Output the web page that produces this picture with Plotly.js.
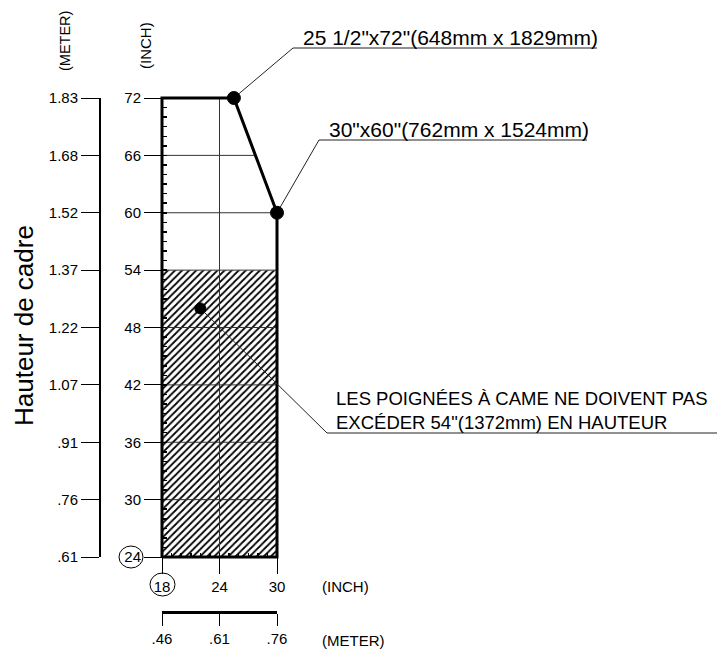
<!DOCTYPE html>
<html>
<head>
<meta charset="utf-8">
<script src="https://cdn.plot.ly/plotly-3.0.1.min.js"></script>
<style>html,body{margin:0;padding:0;background:#fff;}#chart{width:717px;height:649px;}</style>
</head>
<body>
<div id="chart"></div>
<script>
// ---------- DATA ----------
const heightTicksInch = [24, 30, 36, 42, 48, 54, 60, 66, 72];
const heightTicksMeterLabels = ['.61', '.76', '.91', '1.07', '1.22', '1.37', '1.52', '1.68', '1.83'];
const widthTicksInch = [18, 24, 30];
const widthTicksMeterLabels = ['.46', '.61', '.76'];
const frameX = [18, 18, 25.5, 30, 30, 18];
const frameY = [24, 72, 72, 60, 24, 24];
const handleZoneX = [18, 30, 30, 18, 18];
const handleZoneY = [24, 24, 54, 54, 24];
const sizePointX = [25.5, 30];
const sizePointY = [72, 60];
const sizePointLabels = ['25 1/2"x72"(648mm x 1829mm)', '30"x60"(762mm x 1524mm)'];
const handlePointX = [22];
const handlePointY = [50];
const handleNote = 'LES POIGNÉES À CAME NE DOIVENT PAS<br>EXCÉDER 54"(1372mm) EN HAUTEUR';
const INCH_TO_M = 0.0254;

// ---------- LAYOUT GEOMETRY ----------
const W = 717, H = 649;
const PX_X18 = 162, PX_X30 = 277;   // pixel columns of 18" and 30"
const PX_Y72 = 98, PX_Y24 = 557;    // pixel rows of 72" and 24"
const kx = (PX_X30 - PX_X18) / 12;
const ky = (PX_Y24 - PX_Y72) / 48;
const xr = [18 - PX_X18 / kx, 18 + (W - PX_X18) / kx];
const yr = [24 - (H - PX_Y24) / ky, 72 + PX_Y72 / ky];
const px2x = p => 18 + (p - PX_X18) / kx;
const px2y = p => 72 - (p - PX_Y72) / ky;
const FONT = 'Liberation Sans, Arial, sans-serif';

// grid segments clipped to the frame outline
function rightEdgeAt(y) {
  for (let i = 1; i < frameX.length - 2; i++) {
    const y0 = frameY[i], y1 = frameY[i + 1];
    const lo = Math.min(y0, y1), hi = Math.max(y0, y1);
    if (y >= lo && y <= hi && y0 !== y1) {
      return frameX[i] + (y - y0) / (y1 - y0) * (frameX[i + 1] - frameX[i]);
    }
  }
  return frameX[3];
}
const gridX = [], gridY = [];
heightTicksInch.slice(1, -1).forEach(v => {
  gridX.push(18, rightEdgeAt(v), null); gridY.push(v, v, null);
});
gridX.push(widthTicksInch[1], widthTicksInch[1]); gridY.push(24, 72);

const leaderStarts = [[sizePointX[0], sizePointY[0]], [sizePointX[1], sizePointY[1]], [handlePointX[0], handlePointY[0]]];
const leaderElbows = [[293, 48, 597], [319, 140, 587], [327, 433, 720]];
const leadX = [], leadY = [];
leaderStarts.forEach((s, i) => {
  const e = leaderElbows[i];
  leadX.push(s[0], px2x(e[0]), px2x(e[2]), null);
  leadY.push(s[1], px2y(e[1]), px2y(e[1]), null);
});

const traces = [
  {x: handleZoneX, y: handleZoneY, mode: 'lines', fill: 'toself', line: {width: 0, color: '#000'},
   fillcolor: 'white', fillpattern: {shape: '/', size: 5, solidity: 0.35, fgcolor: '#000', bgcolor: 'white'},
   hoverinfo: 'skip'},
  {x: gridX, y: gridY, mode: 'lines', line: {color: '#333', width: 1}, hoverinfo: 'skip'},
  {x: frameX, y: frameY, mode: 'lines', line: {color: '#000', width: 3}, hoverinfo: 'skip'},
  {x: leadX, y: leadY, mode: 'lines', line: {color: '#222', width: 1}, hoverinfo: 'skip'},
  {x: sizePointX.concat(handlePointX), y: sizePointY.concat(handlePointY), mode: 'markers',
   marker: {color: '#000', opacity: 1, size: [13, 13, 11], line: {width: 1, color: '#000'}}, opacity: 1, hoverinfo: 'skip'},
  {x: [18], y: [24], xaxis: 'x2', yaxis: 'y2', mode: 'markers', marker: {opacity: 0}, hoverinfo: 'skip'},
  {x: [18 * INCH_TO_M], y: [24 * INCH_TO_M], xaxis: 'x3', yaxis: 'y3', mode: 'markers', marker: {opacity: 0}, hoverinfo: 'skip'}
];

const yDom = [(H - PX_Y24) / H, (H - PX_Y72) / H];
const xDom = [PX_X18 / W, PX_X30 / W];
const tickFont = {family: FONT, size: 15, color: '#000'};
const hidden = {visible: false, fixedrange: true, showgrid: false, zeroline: false};

const layout = {
  width: W, height: H,
  margin: {l: 0, r: 0, t: 0, b: 0, pad: 0},
  paper_bgcolor: '#fff', plot_bgcolor: 'rgba(0,0,0,0)',
  showlegend: false,
  font: {family: FONT, color: '#000'},
  xaxis: Object.assign({range: xr, domain: [0, 1]}, hidden),
  yaxis: Object.assign({range: yr, domain: [0, 1]}, hidden),
  yaxis2: {domain: yDom, range: [24, 72], anchor: 'free', position: PX_X18 / W, side: 'left',
    showline: false, showgrid: false, zeroline: false, fixedrange: true,
    tickmode: 'linear', tick0: 24, dtick: 6, ticks: 'outside', ticklen: 18, tickwidth: 1, tickcolor: '#000',
    tickfont: tickFont, minor: {tickmode: 'linear', tick0: 24, dtick: 1, ticks: 'inside', ticklen: 4, tickwidth: 1.5, tickcolor: '#000'}},
  xaxis2: {domain: xDom, range: [18, 30], anchor: 'free', position: yDom[0], side: 'bottom',
    showline: false, showgrid: false, zeroline: false, fixedrange: true,
    tickmode: 'array', tickvals: widthTicksInch, ticktext: widthTicksInch.map(String),
    ticks: 'outside', ticklen: 16, tickwidth: 1, tickcolor: '#000', tickfont: tickFont,
    minor: {tickmode: 'linear', tick0: 18, dtick: 1, ticks: 'inside', ticklen: 4, tickwidth: 1.5, tickcolor: '#000'}},
  yaxis3: {domain: yDom, range: [24 * INCH_TO_M, 72 * INCH_TO_M], anchor: 'free', position: 100 / W, side: 'left',
    showline: true, linewidth: 2, linecolor: '#000', showgrid: false, zeroline: false, fixedrange: true,
    tickmode: 'array', tickvals: heightTicksInch.map(v => v * INCH_TO_M), ticktext: heightTicksMeterLabels,
    ticks: 'outside', ticklen: 18, tickwidth: 1, tickcolor: '#000', tickfont: tickFont},
  xaxis3: {domain: xDom, range: [18 * INCH_TO_M, 30 * INCH_TO_M], anchor: 'free', position: (H - 612) / H, side: 'bottom',
    showline: true, linewidth: 2.5, linecolor: '#000', showgrid: false, zeroline: false, fixedrange: true,
    tickmode: 'array', tickvals: widthTicksInch.map(v => v * INCH_TO_M), ticktext: widthTicksMeterLabels,
    ticks: 'outside', ticklen: 12, tickwidth: 1, tickcolor: '#000', tickfont: tickFont},
  shapes: [
    {type: 'circle', xref: 'paper', yref: 'paper', x0: 119 / W, x1: 143 / W, y0: 1 - 568 / H, y1: 1 - 546 / H, line: {color: '#000', width: 1}},
    {type: 'circle', xref: 'paper', yref: 'paper', x0: 150 / W, x1: 175 / W, y0: 1 - 596 / H, y1: 1 - 573 / H, line: {color: '#000', width: 1}}
  ],
  annotations: [
    {xref: 'x', yref: 'y', x: px2x(301), y: px2y(37), xanchor: 'left', yanchor: 'middle', showarrow: false,
     text: sizePointLabels[0], font: {size: 21, family: FONT, color: '#000'}},
    {xref: 'x', yref: 'y', x: px2x(327), y: px2y(129), xanchor: 'left', yanchor: 'middle', showarrow: false,
     text: sizePointLabels[1], font: {size: 21, family: FONT, color: '#000'}},
    {xref: 'x', yref: 'y', x: px2x(334), y: px2y(410), xanchor: 'left', yanchor: 'middle', align: 'left', showarrow: false,
     text: handleNote, font: {size: 18.5, family: FONT, color: '#000'}},
    {xref: 'paper', yref: 'paper', x: 65 / W, y: 1 - 41 / H, xanchor: 'center', yanchor: 'middle', textangle: -90, showarrow: false,
     text: '(METER)', font: {size: 14.5, family: FONT, color: '#000'}},
    {xref: 'paper', yref: 'paper', x: 145 / W, y: 1 - 46 / H, xanchor: 'center', yanchor: 'middle', textangle: -90, showarrow: false,
     text: '(INCH)', font: {size: 15, family: FONT, color: '#000'}},
    {xref: 'paper', yref: 'paper', x: 24 / W, y: 1 - 326 / H, xanchor: 'center', yanchor: 'middle', textangle: -90, showarrow: false,
     text: 'Hauteur de cadre', font: {size: 26, family: FONT, color: '#000'}},
    {xref: 'paper', yref: 'paper', x: 320 / W, y: 1 - 586 / H, xanchor: 'left', yanchor: 'middle', showarrow: false,
     text: '(INCH)', font: {size: 15, family: FONT, color: '#000'}},
    {xref: 'paper', yref: 'paper', x: 320 / W, y: 1 - 640 / H, xanchor: 'left', yanchor: 'middle', showarrow: false,
     text: '(METER)', font: {size: 15, family: FONT, color: '#000'}}
  ]
};

Plotly.newPlot('chart', traces, layout, {displayModeBar: false, staticPlot: true});
</script>
</body>
</html>
